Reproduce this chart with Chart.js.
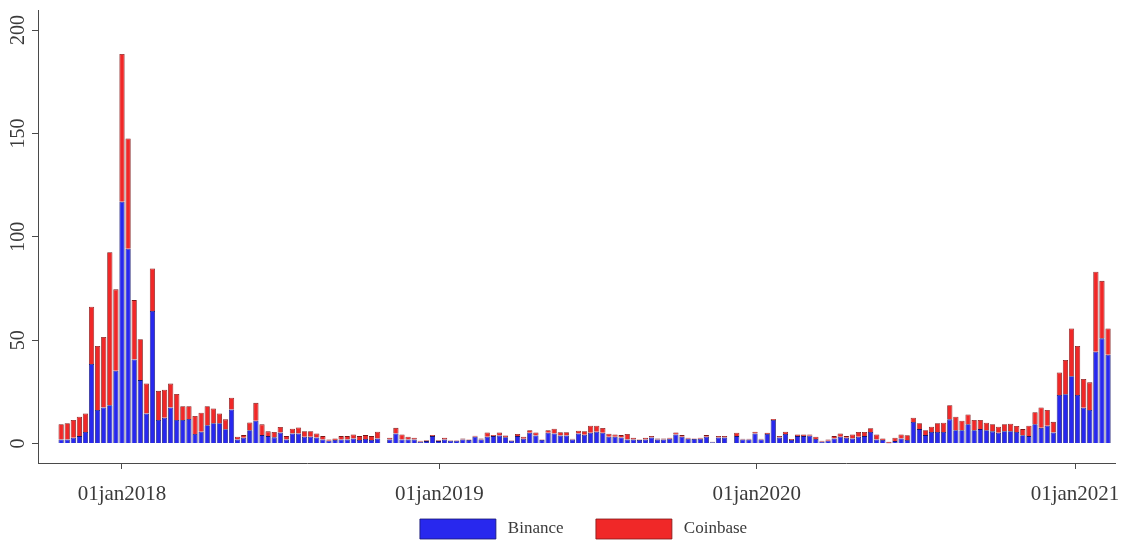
<!DOCTYPE html>
<html>
<head>
<meta charset="utf-8">
<script src="https://cdn.jsdelivr.net/npm/chart.js@4"></script>
<style>
html,body{margin:0;padding:0;overflow:hidden;background:#fff}
#wrap{position:relative;width:1129px;height:549px}
</style>
</head>
<body>
<div id="wrap"><canvas id="c"></canvas></div>
<script>
// Weekly observations (week start dates), first week and count
const firstWeek = '2017-10-23';

// Binance (blue) weekly values, null = no observation
const binance = [
  2.0, 2.0, 2.8, 3.6, 5.6, 38.5, 16.2, 17.5, 18.5, 35.2,
  117.0, 94.2, 40.7, 30.7, 14.6, 64.1, 11.4, 12.5, 17.5, 11.4,
  11.4, 11.9, 4.6, 5.7, 8.9, 9.8, 9.8, 6.9, 16.5, 2.0,
  2.8, 6.5, 11.0, 4.1, 3.6, 3.0, 5.3, 2.0, 4.9, 4.9,
  3.3, 3.3, 2.9, 2.0, 1.4, 1.7, 2.0, 2.0, 2.5, 1.7,
  2.2, 1.7, 2.5, null, 2.0, 4.9, 2.0, 2.0, 2.0, 0.9,
  1.2, 3.6, 1.2, 2.0, 1.4, 1.4, 2.0, 1.7, 3.3, 2.0,
  3.3, 3.6, 3.9, 3.1, 1.4, 3.6, 2.3, 5.2, 3.9, 1.7,
  5.2, 4.9, 3.9, 3.9, 2.0, 4.9, 4.3, 5.2, 5.7, 5.2,
  3.3, 3.3, 2.9, 2.0, 2.0, 1.7, 2.0, 2.9, 2.0, 2.0,
  2.3, 4.4, 3.3, 2.3, 2.2, 2.3, 3.3, 0.6, 2.9, 2.9,
  null, 3.6, 2.0, 2.0, 4.9, 2.0, 4.6, 11.4, 2.9, 4.6,
  1.7, 3.6, 3.6, 3.8, 2.2, 0.9, 1.4, 2.5, 3.3, 2.8,
  2.5, 3.3, 3.6, 5.6, 2.0, 1.7, 0.2, 1.2, 2.5, 1.7,
  10.4, 7.0, 4.1, 5.6, 5.6, 5.6, 11.7, 6.5, 6.5, 9.4,
  6.5, 7.0, 6.5, 5.9, 5.2, 6.0, 6.0, 5.6, 4.0, 3.6,
  9.4, 7.6, 8.6, 5.4, 23.5, 23.9, 32.6, 23.5, 17.3, 16.2,
  44.4, 50.9, 43.0
];

// Coinbase (red) weekly values, stacked on top of Binance
const coinbase = [
  7.4, 7.8, 8.6, 9.4, 9.0, 27.7, 31.0, 34.1, 74.0, 39.4,
  71.4, 53.4, 28.7, 19.8, 14.5, 20.6, 14.1, 13.5, 11.5, 12.6,
  6.7, 6.2, 8.7, 9.2, 9.2, 7.2, 4.8, 4.8, 5.7, 1.3,
  1.3, 3.7, 8.7, 5.2, 2.3, 2.6, 2.7, 1.6, 2.3, 2.9,
  2.7, 2.7, 2.0, 1.6, 0.6, 0.8, 1.6, 1.6, 1.9, 1.9,
  1.9, 1.9, 3.2, null, 0.8, 2.7, 2.4, 1.3, 0.8, 0.5,
  0.4, 0.5, 0.4, 0.8, 0.2, 0.2, 0.5, 0.3, 0.5, 0.5,
  2.1, 0.5, 1.5, 0.8, 0.2, 1.0, 1.0, 1.3, 1.5, 0.3,
  1.3, 2.3, 1.6, 1.6, 0.3, 1.3, 1.7, 3.4, 2.9, 2.3,
  1.5, 1.1, 1.2, 2.6, 0.8, 0.3, 0.8, 0.7, 0.5, 0.5,
  0.5, 1.0, 0.8, 0.5, 0.3, 0.5, 0.8, 0.3, 0.7, 0.7,
  null, 1.6, 0.3, 0.3, 0.8, 0.3, 0.6, 0.5, 0.7, 1.1,
  0.5, 0.8, 0.8, 0.6, 1.1, 0.5, 0.6, 1.1, 1.6, 0.8,
  1.9, 2.3, 2.0, 1.8, 2.4, 0.8, 0.7, 1.6, 1.9, 2.3,
  2.1, 2.8, 2.4, 2.5, 4.2, 4.5, 6.8, 6.5, 4.5, 4.7,
  4.9, 4.4, 3.6, 3.5, 2.9, 3.4, 3.6, 2.9, 3.0, 5.0,
  5.8, 9.9, 7.6, 5.1, 10.9, 16.5, 23.1, 23.7, 13.9, 13.4,
  38.7, 27.8, 12.7
];

// Tick labels
const xTickDates = ['2018-01-01', '2019-01-01', '2020-01-01', '2021-01-01'];
const xTickLabels = ['01jan2018', '01jan2019', '01jan2020', '01jan2021'];
const yTickValues = [0, 50, 100, 150, 200];
const seriesNames = ['Binance', 'Coinbase'];

// ---- build ----
const DAY = 86400000;
const origin = Date.parse('2018-01-01T00:00:00Z');
function dayNum(s) { return (Date.parse(s + 'T00:00:00Z') - origin) / DAY; }

const weeks = [];
{
  const t0 = Date.parse(firstWeek + 'T00:00:00Z');
  for (let i = 0; i < binance.length; i++) {
    weeks.push(new Date(t0 + i * 7 * DAY).toISOString().slice(0, 10));
  }
}
const xValues = weeks.map(dayNum);
const xTickValues = xTickDates.map(dayNum);

const FONT = '"Liberation Serif", "DejaVu Serif", serif';
const TXT = '#3a3a3a';
const AXIS = '#4a4a4a';

// nudge the legend block to sit centred like the original
const legendShift = {
  id: 'legendShift',
  afterLayout(chart) {
    if (chart.legend) { chart.legend.left += 7; chart.legend.right += 7; }
  }
};

new Chart(document.getElementById('c'), {
  type: 'bar',
  data: {
    labels: xValues,
    datasets: [
      {
        label: seriesNames[0],
        data: binance,
        backgroundColor: 'rgb(40,40,238)',
        borderColor: 'rgb(22,22,110)',
        borderWidth: 0.8,
        categoryPercentage: 1,
        barPercentage: 0.86
      },
      {
        label: seriesNames[1],
        data: coinbase,
        backgroundColor: 'rgb(240,40,40)',
        borderColor: 'rgb(125,22,22)',
        borderWidth: 0.8,
        categoryPercentage: 1,
        barPercentage: 0.86
      }
    ]
  },
  plugins: [legendShift],
  options: {
    responsive: true,
    maintainAspectRatio: false,
    animation: false,
    devicePixelRatio: 1,
    layout: { padding: { top: 10, right: 14, left: 0, bottom: 0 } },
    plugins: {
      tooltip: { enabled: false },
      legend: {
        position: 'bottom',
        fullSize: false,
        labels: {
          boxWidth: 76,
          boxHeight: 20,
          padding: 12,
          color: TXT,
          font: { family: FONT, size: 17 },
          generateLabels: (chart) => {
            const items = Chart.defaults.plugins.legend.labels.generateLabels(chart);
            items.forEach((it, i) => {
              it.text = '\u2009' + it.text + (i < items.length - 1 ? '\u2002\u2002\u2009' : '');
            });
            return items;
          }
        }
      }
    },
    scales: {
      x: {
        type: 'linear',
        stacked: true,
        offset: false,
        min: -96.6,
        max: 1142,
        grid: { display: true, offset: false, drawOnChartArea: false, drawTicks: true, tickLength: 6, color: AXIS },
        border: { display: true, color: AXIS, width: 1 },
        afterBuildTicks: (s) => { s.ticks = xTickValues.map(v => ({ value: v })); },
        afterFit: (s) => { s.height = 44; s.paddingLeft = 0; s.paddingRight = 0; },
        ticks: {
          autoSkip: false,
          maxRotation: 0,
          minRotation: 0,
          padding: 13,
          color: TXT,
          font: { family: FONT, size: 21 },
          callback: (v, i) => xTickLabels[i]
        }
      },
      y: {
        stacked: true,
        min: -9.4,
        max: 209.7,
        grid: { display: true, drawOnChartArea: false, drawTicks: true, tickLength: 6, color: AXIS },
        border: { display: true, color: AXIS, width: 1 },
        afterBuildTicks: (s) => { s.ticks = yTickValues.map(v => ({ value: v })); },
        afterFit: (s) => { s.width = 38; },
        ticks: {
          minRotation: 90,
          maxRotation: 90,
          crossAlign: 'center',
          padding: -2,
          color: TXT,
          font: { family: FONT, size: 20 }
        }
      }
    }
  }
});
</script>
</body>
</html>
